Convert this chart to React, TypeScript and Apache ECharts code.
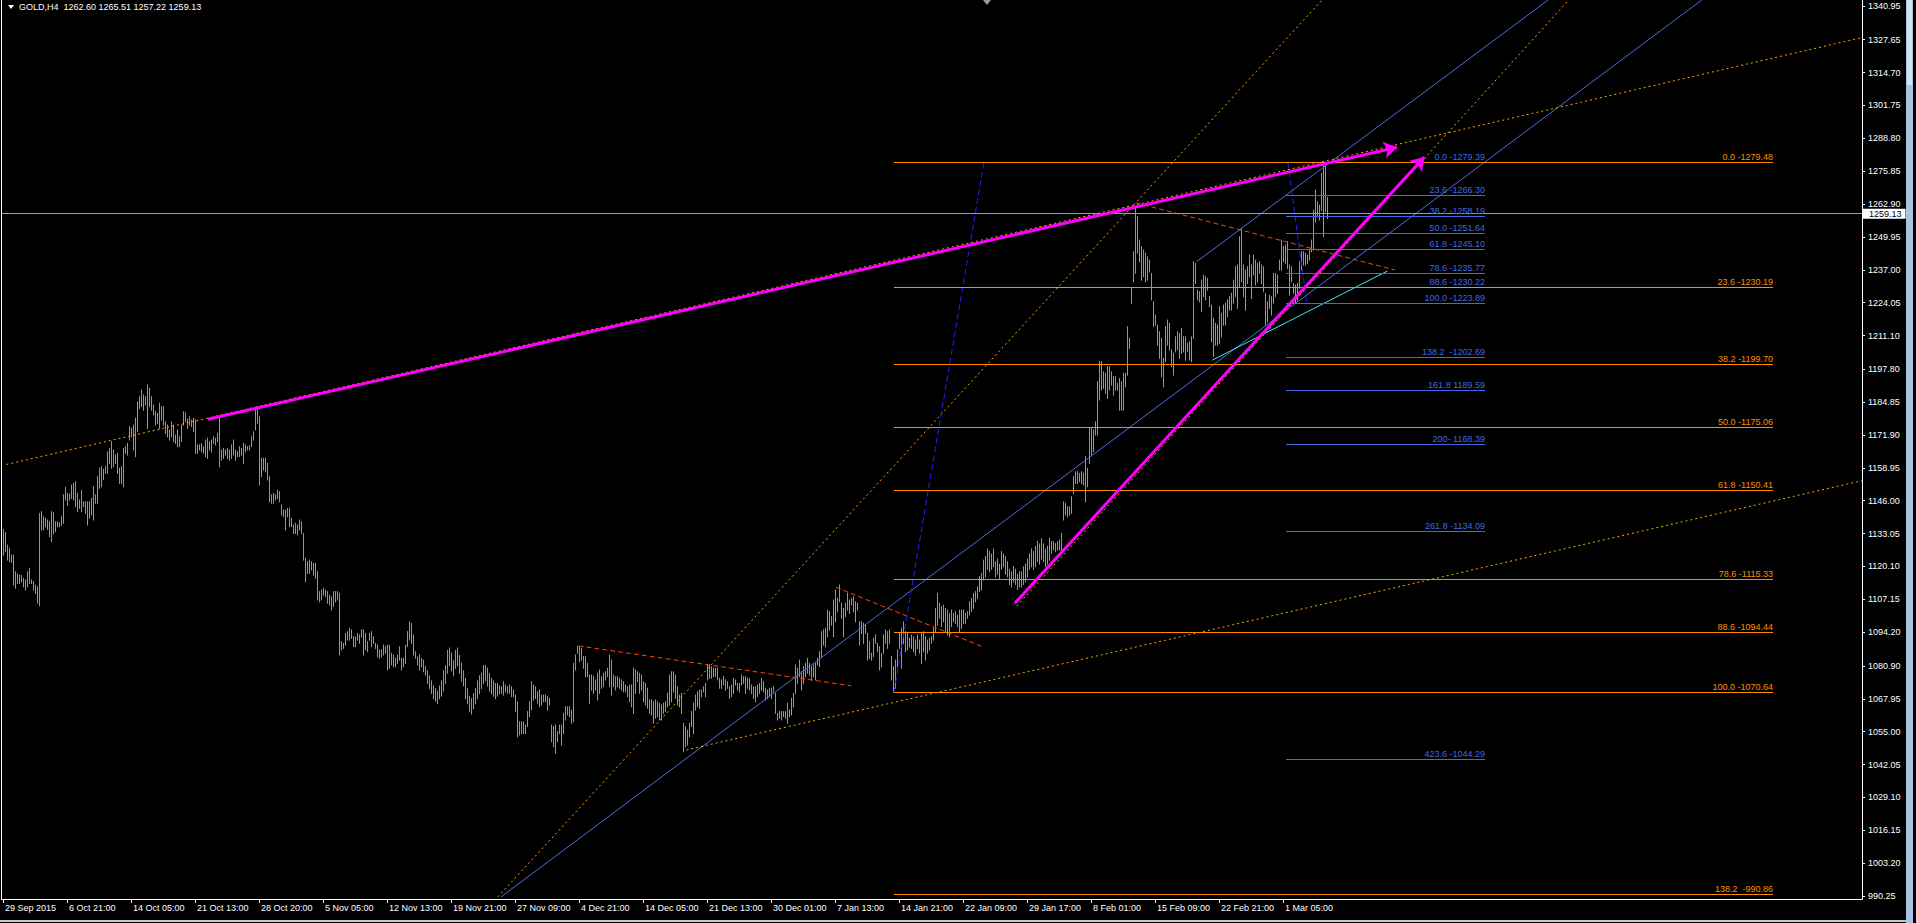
import React, { useEffect, useRef } from "react";
import * as echarts from "echarts";

// ---------- text ----------
const chartTitle = "GOLD,H4  1262.60 1265.51 1257.22 1259.13";
const timeLabels = [
  "29 Sep 2015", "6 Oct 21:00", "14 Oct 05:00", "21 Oct 13:00", "28 Oct 20:00", "5 Nov 05:00",
  "12 Nov 13:00", "19 Nov 21:00", "27 Nov 09:00", "4 Dec 21:00", "14 Dec 05:00", "21 Dec 13:00",
  "30 Dec 01:00", "7 Jan 13:00", "14 Jan 21:00", "22 Jan 09:00", "29 Jan 17:00", "8 Feb 01:00",
  "15 Feb 09:00", "22 Feb 21:00", "1 Mar 05:00",
];
const barsPerTimeLabel = 32;
const priceTicks = [
  990.25, 1003.2, 1016.15, 1029.1, 1042.05, 1055.0, 1067.95, 1080.9, 1094.2, 1107.15, 1120.1,
  1133.05, 1146.0, 1158.95, 1171.9, 1184.85, 1197.8, 1211.1, 1224.05, 1237.0, 1249.95, 1262.9,
  1275.85, 1288.8, 1301.75, 1314.7, 1327.65, 1340.95,
];
const currentPrice = 1259.13;

// ---------- H4 bars: [low, high] ----------
const barsOct = [
  [1124.6,1134.7],[1125.9,1133.5],[1122.6,1128.5],[1122.0,1127.2],[1121.7,1124.6],[1112.8,1124.6],[1111.5,1118.0],[1113.4,1117.1],[1113.4,1116.7],[1114.0,1116.5],
  [1112.1,1115.4],[1110.8,1114.8],[1112.1,1118.0],[1113.4,1119.4],[1113.4,1114.8],[1110.8,1114.1],[1109.5,1112.8],[1105.6,1112.1],[1104.6,1141.0],[1134.5,1141.7],
  [1134.5,1139.7],[1135.8,1139.1],[1134.7,1138.4],[1131.8,1137.7],[1129.9,1141.7],[1132.9,1141.3],[1133.8,1137.7],[1135.8,1137.7],[1135.8,1137.3],[1136.4,1139.7],
  [1137.1,1148.3],[1146.3,1151.3],[1144.3,1148.9],[1146.3,1148.6],[1146.9,1152.2],[1146.3,1152.8],[1143.7,1153.5],[1141.7,1148.9],[1143.0,1146.3],[1141.7,1150.0],
  [1143.7,1145.6],[1141.0,1145.6],[1136.4,1145.6],[1139.1,1145.6],[1140.4,1146.9],[1138.4,1151.5],[1145.0,1148.3],[1145.0,1155.5],[1150.9,1158.8],[1151.5,1159.4],
  [1154.4,1158.4],[1156.8,1159.4],[1156.8,1165.3],[1160.7,1166.6],[1158.8,1169.3],[1159.4,1166.0],[1160.7,1164.0],[1156.8,1164.7],[1152.8,1158.8],[1152.8,1159.4],
  [1151.5,1166.6],[1164.7,1167.3],[1164.0,1168.6],[1169.9,1175.2],[1171.2,1174.5],[1166.0,1175.8],[1163.4,1178.5],[1173.2,1185.0],[1182.4,1187.0],[1183.1,1189.6],
  [1181.7,1187.7],[1183.7,1187.0],[1174.5,1191.6],[1183.1,1190.3],[1181.7,1187.0],[1179.8,1183.7],[1175.8,1181.1],[1176.5,1180.4],[1174.5,1184.4],[1177.8,1183.1],
  [1175.8,1183.1],[1172.5,1177.1],[1171.2,1175.8],[1169.9,1173.9],[1171.2,1177.1],[1169.3,1175.8],[1168.6,1171.9],[1167.3,1173.9],[1167.3,1171.2],[1169.3,1175.8],
  [1175.8,1181.1],[1177.1,1180.7],[1174.5,1178.1],[1175.8,1179.1],[1175.2,1177.8],[1173.2,1178.5],[1164.7,1177.8],[1164.7,1168.0],[1166.0,1168.0],[1165.3,1168.4],
  [1164.7,1167.3],[1163.4,1169.9],[1162.7,1170.6],[1166.0,1169.3],[1165.3,1169.9],[1168.6,1171.2],[1168.0,1170.6],[1169.3,1172.5],[1159.4,1178.5],[1162.0,1166.0],
  [1162.7,1166.6],[1164.0,1166.0],[1162.7,1166.6],[1162.0,1166.0],[1162.7,1168.0],[1164.0,1169.9],[1162.0,1166.0],[1163.4,1165.3],[1163.4,1167.3],[1164.0,1166.6],
  [1160.7,1168.6],[1165.3,1168.0],[1166.0,1167.3],[1166.0,1167.6],[1167.3,1171.2],[1169.9,1173.2],[1173.9,1181.7],[1176.5,1183.1],[1152.2,1179.1],[1155.5,1162.7],
  [1158.1,1162.7],[1157.4,1162.7],[1154.2,1160.7],[1145.6,1155.5],[1145.0,1148.3],[1145.0,1148.9],[1146.3,1148.3],[1146.9,1150.2],[1145.6,1149.6],[1140.4,1144.3],
  [1139.7,1142.3],[1134.5,1142.3],[1139.7,1143.0],[1135.8,1143.0],[1135.8,1139.1],[1133.1,1136.4],[1133.1,1137.1],[1132.5,1136.4],[1134.5,1138.4],[1133.1,1137.7],
  [1122.6,1133.1],[1114.1,1123.3],[1117.4,1122.0],[1117.4,1122.6],[1118.7,1122.0],[1116.7,1121.3],[1115.4,1121.3],[1106.9,1118.0],[1106.2,1110.2],[1106.9,1110.8],
  [1108.8,1111.5],[1108.2,1110.8],[1105.6,1110.2],[1104.9,1108.8],[1102.9,1108.2],[1104.3,1110.2],[1106.2,1110.2],[1106.9,1110.2],[1085.2,1109.5],[1087.2,1090.5],
  [1087.8,1089.8],[1089.1,1093.7],[1091.1,1094.4],[1091.1,1095.7],[1091.8,1095.1],[1088.5,1092.4],[1088.5,1092.4],[1091.1,1093.7],[1089.8,1093.1],[1092.4,1095.1],
  [1085.2,1095.1],[1087.2,1093.7],[1086.5,1090.5],[1091.1,1093.7],[1088.5,1094.4],[1089.8,1092.4],[1087.8,1089.8],[1084.5,1089.1],[1083.9,1087.2],[1084.5,1087.2],
  [1085.2,1089.1],[1085.9,1088.5],[1079.3,1089.1],[1080.0,1089.1],[1081.3,1085.9],[1080.6,1085.2],[1080.6,1083.9],[1081.9,1085.2],[1083.2,1088.5],[1079.3,1083.9],
  [1080.6,1083.9],[1081.9,1089.1],[1088.5,1094.4],[1091.1,1098.3],[1089.8,1097.7],[1085.2,1093.1],[1083.9,1086.5],[1081.3,1084.5],[1079.3,1085.2],[1080.6,1083.9],
  [1078.6,1083.2],[1077.3,1080.6],
];
const barsNov = [
  [1074,1079],[1072,1077],[1070,1075],[1068,1073],[1067,1072],[1066,1071],[1068,1073],[1069,1075],[1071,1079],[1074,1081],
  [1078,1087],[1081,1088],[1079,1086],[1077,1083],[1080,1087],[1081,1088],[1078,1085],[1075,1082],[1073,1079],
  [1068,1076],[1066,1072],[1063,1069],[1062,1068],[1064,1070],[1066,1072],[1068,1075],[1070,1077],[1072,1078],
  [1074,1081],[1075,1081],[1073,1080],[1071,1078],[1070,1076],[1069,1075],[1068,1074],[1069,1074],[1070,1073],
];
const barsDecJan = [
  [1070.1,1072.7],[1069.4,1074.7],[1070.7,1073.4],[1070.1,1072.7],[1070.1,1073.4],[1068.8,1072.7],[1068.8,1071.4],[1062.9,1069.4],[1053.0,1066.8],[1053.7,1058.9],
  [1054.3,1058.9],[1054.3,1058.9],[1054.3,1057.6],[1057.0,1062.9],[1060.9,1066.8],[1063.5,1074.7],[1067.5,1073.4],[1068.1,1072.7],[1066.2,1070.7],[1064.8,1071.4],
  [1065.5,1069.4],[1066.8,1069.4],[1066.8,1069.4],[1063.5,1068.8],[1065.5,1068.1],[1051.1,1057.6],[1049.1,1057.0],[1046.5,1057.6],[1051.1,1055.0],[1054.3,1057.6],
  [1049.7,1057.6],[1054.3,1062.2],[1059.6,1064.8],[1061.6,1064.8],[1060.9,1064.8],[1058.3,1063.5],[1058.9,1081.9],[1079.3,1085.2],[1085.9,1088.7],[1082.6,1088.5],
  [1083.2,1087.8],[1080.0,1084.6],[1076.7,1084.6],[1076.7,1081.9],[1066.2,1077.3],[1071.4,1077.3],[1070.1,1076.7],[1071.4,1075.4],[1067.5,1078.0],[1070.1,1079.3],
  [1072.1,1076.7],[1072.7,1078.0],[1075.4,1078.6],[1076.7,1080.0],[1072.7,1085.2],[1069.4,1083.2],[1072.7,1077.3],[1071.4,1076.7],[1072.7,1076.7],[1072.1,1076.0],
  [1071.4,1075.4],[1070.7,1074.7],[1070.7,1073.4],[1068.8,1072.7],[1066.8,1073.4],[1064.8,1073.4],[1062.2,1080.0],[1070.1,1079.3],[1074.7,1078.6],[1070.1,1078.0],
  [1071.4,1077.3],[1066.8,1074.7],[1065.5,1074.0],[1064.2,1072.1],[1062.2,1067.5],[1061.6,1067.5],[1058.3,1066.8],[1060.3,1067.5],[1060.9,1066.8],[1059.6,1066.2],
  [1059.6,1065.5],[1062.2,1066.2],[1062.9,1066.8],[1064.8,1070.1],[1065.5,1077.3],[1066.8,1078.6],[1070.7,1078.6],[1068.1,1077.3],[1065.5,1072.7],[1064.8,1069.4],
  [1062.2,1070.1],[1047.1,1058.3],[1049.1,1057.0],[1049.7,1055.6],[1053.0,1058.3],[1057.0,1062.9],[1054.3,1066.2],[1063.5,1069.4],[1064.8,1070.7],[1064.2,1071.4],
  [1068.8,1071.4],[1070.7,1072.7],[1068.8,1074.0],[1075.4,1081.3],[1076.0,1081.3],[1076.0,1080.6],[1076.7,1080.0],[1076.7,1080.0],[1075.4,1080.0],[1072.1,1076.0],
  [1072.1,1075.4],[1073.4,1076.7],[1071.4,1075.4],[1072.1,1074.7],[1068.1,1072.7],[1068.8,1073.4],[1070.1,1076.0],[1073.4,1075.4],[1071.4,1074.0],[1070.7,1074.0],
  [1073.4,1077.3],[1074.0,1076.7],[1070.1,1076.7],[1072.1,1076.0],[1071.4,1076.0],[1070.1,1073.4],[1068.1,1072.7],[1066.8,1072.7],[1068.8,1073.4],[1070.1,1074.0],
  [1071.4,1076.0],[1070.7,1074.7],[1067.5,1072.1],[1068.1,1071.4],[1068.8,1072.1],[1068.1,1072.1],[1070.7,1072.7],[1062.2,1070.1],[1059.6,1062.2],[1060.3,1062.9],
  [1059.6,1062.9],[1060.9,1062.9],[1060.3,1062.9],[1058.3,1066.2],[1060.9,1063.5],[1061.6,1068.1],[1064.8,1070.1],[1070.1,1081.3],[1074.0,1080.0],[1076.7,1083.2],
  [1071.4,1078.6],[1074.0,1080.6],[1076.7,1081.9],[1078.0,1083.9],[1077.3,1081.9],[1075.4,1080.6],[1076.7,1081.3],[1075.4,1081.9],[1081.3,1083.9],[1080.6,1086.5],
  [1084.6,1094.4],[1089.1,1095.1],[1088.5,1095.7],[1092.4,1102.9],[1095.1,1102.3],[1097.0,1100.3],[1092.4,1106.9],[1098.3,1110.8],[1102.3,1107.5],[1106.2,1112.8],
  [1099.7,1105.6],[1092.4,1103.6],[1100.3,1105.6],[1102.9,1109.5],[1101.6,1106.9],[1104.9,1107.5],[1102.3,1108.2],[1098.3,1106.2],[1102.9,1105.6],[1089.1,1098.3],
  [1093.7,1098.3],[1089.8,1097.7],[1093.7,1097.0],[1083.2,1093.7],[1083.9,1090.5],[1083.2,1085.9],[1084.6,1091.8],[1089.8,1093.1],[1086.5,1089.8],[1079.3,1088.5],
  [1080.6,1085.9],[1085.9,1093.1],[1089.8,1095.1],[1087.8,1094.4],[1089.8,1095.1],[1075.4,1084.6],[1070.64,1080.6],[1072.1,1083.2],[1080.6,1087.2],[1087.8,1093.7],
  [1080.0,1095.7],[1089.8,1098.3],[1086.5,1094.4],[1087.2,1093.7],[1088.5,1091.8],[1087.8,1093.1],[1086.5,1092.4],[1085.2,1091.1],[1087.8,1093.1],[1085.9,1091.1],
  [1081.9,1093.7],[1086.5,1094.4],[1083.2,1092.4],[1085.9,1091.1],[1087.2,1091.8],[1089.8,1092.4],[1091.1,1095.7],[1094.4,1103.6],[1097.0,1109.5],[1099.7,1105.6],
  [1096.4,1104.3],[1098.3,1104.9],[1094.4,1103.6],[1093.1,1102.9],[1092.4,1101.6],[1096.4,1102.9],[1098.3,1101.6],[1097.7,1102.3],[1096.4,1100.9],[1094.4,1102.9],
  [1095.7,1102.9],[1097.7,1102.9],[1097.7,1101.6],[1099.7,1102.3],[1101.0,1106.2],[1102.3,1107.5],[1103.6,1109.5],[1106.2,1110.2],[1107.5,1112.1],[1110.2,1116.1],
  [1110.8,1117.4],[1114.8,1122.6],
];
const barsLateJan = [
  [1116,1124],[1119,1127],[1118,1126],[1119,1125],[1120,1127],[1116,1122],[1117,1123],[1115,1121],[1119,1126],[1120,1125],
  [1117,1124],[1116,1122],[1113,1119],[1112,1118],[1114,1120],[1113,1119],[1111,1117],[1112,1118],[1112,1118],[1113,1120],
  [1114,1121],[1116,1123],[1119,1125],[1120,1127],[1119,1126],[1120,1128],[1122,1130],[1121,1129],[1123,1131],[1122,1129],
  [1120,1127],[1121,1128],
];
const barsFebMar = [
  [1122.6,1131.2],[1125.3,1129.9],[1126.6,1129.9],[1125.9,1129.2],[1126.6,1129.9],[1126.6,1130.5],[1126.6,1133.1],[1138.4,1145.6],[1140.4,1145.0],[1139.7,1143.6],
  [1140.4,1143.6],[1141.0,1147.6],[1148.9,1155.5],[1152.8,1157.4],[1152.8,1157.4],[1153.5,1156.8],[1152.8,1157.4],[1152.2,1156.8],[1145.6,1163.4],[1151.5,1158.8],
  [1160.7,1174.5],[1164.0,1174.5],[1165.3,1173.9],[1171.9,1177.1],[1171.9,1192.9],[1185.7,1200.8],[1189.6,1200.8],[1190.3,1196.8],[1188.3,1196.2],[1186.3,1198.8],
  [1189.6,1198.8],[1191.6,1196.8],[1187.6,1194.9],[1189.6,1194.9],[1189.6,1192.2],[1181.7,1194.2],[1181.7,1192.9],[1181.7,1196.2],[1190.9,1196.2],[1195.5,1214.6],
  [1206.0,1210.0],[1223.8,1229.7],[1232.3,1244.1],[1235.6,1261.2],[1243.5,1257.9],[1240.2,1248.7],[1232.9,1246.1],[1234.3,1244.8],[1232.3,1243.5],[1232.9,1242.1],
  [1236.2,1240.8],[1225.1,1235.6],[1214.6,1224.4],[1215.2,1219.2],[1207.3,1215.2],[1202.1,1212.6],[1194.9,1210.0],[1190.9,1202.1],[1200.8,1214.6],[1207.3,1217.2],
  [1205.4,1215.9],[1198.8,1205.4],[1195.5,1204.1],[1204.7,1210.6],[1205.4,1212.6],[1202.1,1211.9],[1204.1,1213.9],[1204.7,1210.6],[1201.4,1210.6],[1204.7,1208.0],
  [1201.4,1208.7],[1200.8,1210.6],[1210.0,1240.2],[1231.6,1239.5],[1225.1,1229.0],[1224.4,1228.4],[1220.5,1232.9],[1226.4,1234.9],[1225.1,1234.3],[1229.0,1233.6],
  [1222.5,1226.4],[1208.7,1223.1],[1202.8,1217.9],[1207.3,1215.9],[1207.3,1215.2],[1208.0,1222.5],[1210.6,1219.8],[1215.2,1223.1],[1215.2,1223.8],[1218.5,1225.1],
  [1221.1,1226.4],[1221.1,1227.7],[1223.8,1232.9],[1226.4,1238.2],[1221.8,1238.9],[1230.3,1250.0],[1232.3,1253.3],[1226.4,1238.9],[1221.1,1236.9],[1231.6,1238.2],
  [1234.3,1242.8],[1225.7,1238.9],[1234.9,1242.8],[1231.0,1240.8],[1232.3,1239.5],[1235.6,1240.2],[1231.6,1238.9],[1228.4,1238.2],[1215.2,1227.7],[1216.5,1224.4],
  [1221.8,1227.0],[1219.2,1226.4],[1223.8,1235.6],[1226.4,1235.6],[1227.7,1234.9],[1236.9,1240.8],[1236.9,1248.7],[1240.2,1246.1],[1239.5,1246.8],[1237.5,1248.1],
  [1227.0,1238.9],[1232.3,1238.2],[1227.7,1231.6],[1223.89,1231.0],[1225.1,1231.6],[1229.7,1240.2],[1236.9,1244.1],[1238.9,1244.1],[1238.9,1243.5],[1239.5,1242.8],
  [1240.8,1244.8],[1244.1,1248.7],[1244.8,1260.5],[1255.9,1268.4],[1257.9,1263.8],[1256.6,1262.5],[1260.5,1275.0],[1250.0,1278.9],[1259.9,1279.48],[1257.22,1265.51],
];
const bars = [...barsOct, ...barsNov, ...barsDecJan, ...barsLateJan, ...barsFebMar];

// ---------- Fibonacci objects ----------
const fibOrangeLevels = [1279.48, 1230.19, 1199.7, 1175.06, 1150.41, 1115.33, 1094.44, 1070.64, 990.86];
const fibOrangeLabels = ["0.0 -1279.48", "23.6 -1230.19", "38.2 -1199.70", "50.0 -1175.06", "61.8 -1150.41", "78.6 -1115.33", "88.6 -1094.44", "100.0 -1070.64", "138.2  -990.86"];
const fibOrangeSpan = [445.5, 885];
const fibOrangeAnchors = [[445.5, 1070.64], [490.5, 1279.48]];

const fibBlueLevels = [1279.39, 1266.3, 1258.19, 1251.64, 1245.1, 1235.77, 1230.22, 1223.89, 1202.69, 1189.59, 1168.39, 1134.09, 1044.29];
const fibBlueLabels = ["0.0 -1279.39", "23.6 -1266.30", "38.2 -1258.19", "50.0 -1251.64", "61.8 -1245.10", "78.6 -1235.77", "88.6 -1230.22", "100.0 -1223.89", "138.2  -1202.69", "161.8 1189.59", "200- 1168.39", "261.8 -1134.09", "423.6 -1044.29"];
const fibBlueSpan = [641.5, 741];
const fibBlueAnchors = [[642.4, 1279.39], [651.9, 1223.89]];

// ---------- trend lines: [barIndex, price] anchors ----------
const magentaArrows = [
  [[102.5, 1178.1], [697, 1285.3]],
  [[505.9, 1105.6], [710.7, 1281.4]],
];
const orangeDottedLines = [
  [[1.7, 1160.3], [929.5, 1328.5]],
  [[341.7, 1047.8], [929.5, 1153.9]],
  [[247.4, 989.9], [659.5, 1343.3]],
  [[506.9, 1104.5], [783, 1343.4]],
];
const blueChannelLines = [
  [[249.0, 989.9], [849.35, 1343.3]],
  [[596.85, 1240.2], [772.5, 1343.3]],
];
const cyanLine = [[604.65, 1201.4], [692.15, 1236.5]];
const redDashedLines = [
  [[287.75, 1088.8], [424.15, 1073.1]],
  [[416.5, 1111.9], [489.6, 1088.5]],
  [[566.5, 1263.4], [696, 1236.9]],
];

const FONT = '9px "Liberation Sans", Arial, sans-serif';

function segmentSeries(pts: number[][], color: string, type: any, width = 1, z = 5) {
  return {
    type: "line",
    data: pts,
    symbol: "none",
    showSymbol: false,
    silent: true,
    clip: true,
    z,
    lineStyle: { color, width, type },
  };
}

function fibSeries(levels: number[], labels: string[], span: number[], color: string, z: number) {
  return {
    type: "custom",
    silent: true,
    clip: true,
    z,
    data: levels.map((v, k) => [span[0], span[1], v, k]),
    encode: { x: [0, 1], y: 2 },
    renderItem: (_p: any, api: any) => {
      const a = api.coord([api.value(0), api.value(2)]);
      const b = api.coord([api.value(1), api.value(2)]);
      const y = Math.round(a[1]) + 0.5;
      return {
        type: "group",
        children: [
          { type: "line", shape: { x1: a[0], y1: y, x2: b[0], y2: y }, style: { stroke: color, lineWidth: 1 } },
          {
            type: "text",
            x: b[0],
            y: y - 1.5,
            style: { text: labels[api.value(3)], fill: color, font: FONT, align: "right", verticalAlign: "bottom" },
          },
        ],
      };
    },
  };
}

export default function App() {
  const ref = useRef<HTMLDivElement>(null);

  useEffect(() => {
    if (!ref.current) return;
    const chart = echarts.init(ref.current, undefined, { renderer: "svg" });

    const xTickValues = timeLabels.map((_, k) => k * barsPerTimeLabel);

    const option: any = {
      animation: false,
      backgroundColor: "#000",
      grid: { left: 2, right: 54, top: 0, bottom: 24 },
      xAxis: {
        type: "value",
        min: -0.5,
        max: 929.5,
        axisLine: { show: true, onZero: false, lineStyle: { color: "#fff", width: 1 } },
        axisTick: { show: true, customValues: xTickValues, length: 4, lineStyle: { color: "#fff" } },
        axisLabel: {
          customValues: xTickValues,
          formatter: (v: number) => timeLabels[Math.round(v / barsPerTimeLabel)] ?? "",
          color: "#fff",
          fontSize: 9,
          fontFamily: '"Liberation Sans", Arial, sans-serif',
          align: "left",
          margin: 4,
          padding: [0, 0, 0, 2],
        },
        splitLine: { show: false },
      },
      yAxis: {
        type: "value",
        position: "right",
        min: 989.07,
        max: 1343.31,
        axisLine: { show: true, onZero: false, lineStyle: { color: "#fff", width: 1 } },
        axisTick: { show: true, customValues: priceTicks, length: 3, lineStyle: { color: "#fff" } },
        axisLabel: {
          customValues: priceTicks,
          formatter: (v: number) => v.toFixed(2),
          color: "#fff",
          fontSize: 9,
          fontFamily: '"Liberation Sans", Arial, sans-serif',
          margin: 6,
        },
        splitLine: { show: false },
      },
      series: [
        {
          type: "line",
          data: [],
          silent: true,
          z: 1,
          markLine: {
            silent: true,
            symbol: "none",
            animation: false,
            lineStyle: { color: "#9c9ca4", width: 1, type: "solid" },
            label: {
              show: true,
              position: "end",
              distance: 1,
              formatter: currentPrice.toFixed(2),
              backgroundColor: "#fff",
              color: "#000",
              fontSize: 9,
              fontFamily: '"Liberation Sans", Arial, sans-serif',
              lineHeight: 10,
              padding: [0, 4, 0, 6],
            },
            data: [{ yAxis: currentPrice }],
          },
        },
        {
          type: "custom",
          silent: true,
          clip: true,
          z: 2,
          data: bars.map((b, i) => [i, b[0], b[1]]),
          encode: { x: 0, y: [1, 2] },
          renderItem: (_p: any, api: any) => {
            const lo = api.coord([api.value(0), api.value(1)]);
            const hi = api.coord([api.value(0), api.value(2)]);
            const x = Math.floor(lo[0]) + 0.5;
            return {
              type: "line",
              shape: { x1: x, y1: lo[1] + 0.5, x2: x, y2: hi[1] - 0.5 },
              style: { stroke: "#00ff00", lineWidth: 1 },
            };
          },
        },
        ...blueChannelLines.map((p) => segmentSeries(p, "#4a6fe0", "solid", 1, 4)),
        segmentSeries(cyanLine, "#3ee6e6", "solid", 1, 4),
        ...orangeDottedLines.map((p) => segmentSeries(p, "#ffa500", [2, 3], 1, 4)),
        ...redDashedLines.map((p) => segmentSeries(p, "#ff4500", [5, 3], 1, 4)),
        segmentSeries(fibOrangeAnchors, "#1f1fff", [6, 3], 1, 5),
        segmentSeries(fibBlueAnchors, "#1f1fff", [6, 3], 1, 5),
        fibSeries(fibBlueLevels, fibBlueLabels, fibBlueSpan, "#4169e1", 6),
        fibSeries(fibOrangeLevels, fibOrangeLabels, fibOrangeSpan, "#ff8c00", 7),
        {
          type: "lines",
          coordinateSystem: "cartesian2d",
          silent: true,
          z: 10,
          symbol: ["none", "arrow"],
          symbolSize: 13,
          lineStyle: { color: "#ff00ff", width: 3, opacity: 1, curveness: 0 },
          data: magentaArrows.map((c) => ({ coords: c })),
        },
      ],
      graphic: [
        { type: "rect", shape: { x: 1, y: 0, width: 1, height: 900 }, style: { fill: "#ffffff" }, silent: true },
        { type: "polygon", shape: { points: [[8, 5], [14, 5], [11, 9]] }, style: { fill: "#ffffff" }, silent: true },
        { type: "text", x: 19, y: 7, style: { text: chartTitle, fill: "#ffffff", font: FONT, verticalAlign: "middle" }, silent: true },
        { type: "polygon", shape: { points: [[983, 0], [991, 0], [987, 5]] }, style: { fill: "#9a9a9a" }, silent: true },
        { type: "rect", shape: { x: 1906, y: 0, width: 7, height: 923 }, style: { fill: "#a9c4e2" }, silent: true },
        { type: "rect", shape: { x: 1907, y: 0, width: 5, height: 85 }, style: { fill: "#d3e3f3" }, silent: true },
        { type: "rect", shape: { x: 0, y: 920, width: 1906, height: 2 }, style: { fill: "#c8c8c8" }, silent: true },
      ],
    };

    chart.setOption(option);
    return () => chart.dispose();
  }, []);

  return (
    <div
      ref={ref}
      style={{ position: "fixed", left: 0, top: 0, width: 1916, height: 923, background: "#000" }}
    />
  );
}
